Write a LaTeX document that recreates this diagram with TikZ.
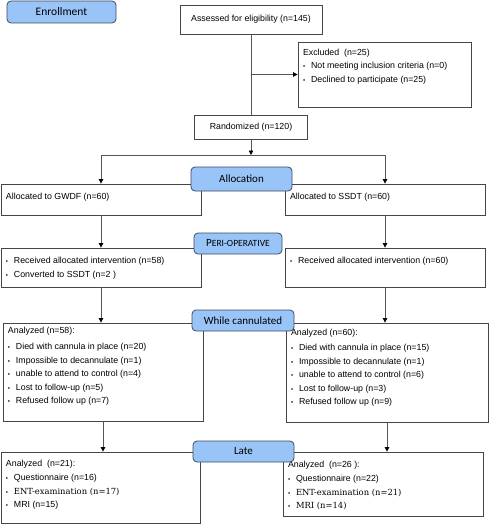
\documentclass[tikz,border=0pt]{standalone}
\usepackage{fontspec}
\setmainfont{Liberation Sans}
\newfontfamily\phasefont{Carlito}
\newfontfamily\entfont{DejaVu Serif}
\usetikzlibrary{arrows.meta}
\definecolor{phasefill}{RGB}{152,196,248}
\definecolor{phaseline}{RGB}{60,75,95}
\definecolor{boxline}{RGB}{70,70,70}
\definecolor{linecol}{RGB}{85,85,85}
\newcommand{\itm}{\makebox[8pt][l]{\scalebox{0.7}{\textbullet}}}
\newcommand{\ent}[1]{{\entfont\fontsize{8.4}{13.5}\selectfont #1}}
\newcommand{\toptext}[4]{\parbox[c][#2pt][t]{#1pt}{\vspace*{#3pt}\leftskip=5pt\relax #4}}
\begin{document}
\begin{tikzpicture}[x=1pt, y=-1pt,
    phase/.style={draw=phaseline, fill=phasefill, rounded corners=4pt, line width=0.8pt, inner sep=0pt, font=\phasefont\fontsize{11}{13}\selectfont},
    flow/.style={draw=boxline, line width=0.8pt, inner sep=0pt, font=\fontsize{8.8}{13.5}\selectfont},
    link/.style={draw=linecol, line width=0.8pt},
    arr/.style={link, -{Triangle[length=4.5pt, width=4.5pt, color=black]}}]
    \useasboundingbox (0, 0) rectangle (489, 524);

    \node[flow, minimum width=142, minimum height=29] (assessed) at (251, 19.5) {Assessed for eligibility (n=145)};
    \node[flow] (excluded) at (384.5, 74.5) {\toptext{173}{65}{7}{Excluded\ \ (n=25)\\\itm Not meeting inclusion criteria (n=0)\\\itm Declined to participate (n=25)}};
    \node[flow, minimum width=113, minimum height=24] (randomized) at (251, 127) {Randomized (n=120)};

    \node[flow] (gwdf) at (101, 199.5) {\toptext{200}{31}{9}{Allocated to GWDF (n=60)}};
    \node[flow] (ssdt) at (385, 199.5) {\toptext{200}{31}{9}{Allocated to SSDT (n=60)}};

    \node[flow] (perileft) at (101, 267.5) {\toptext{200}{39}{9}{\itm Received allocated intervention (n=58)\\[1pt]\itm Converted to SSDT (n=2 )}};
    \node[flow] (periright) at (385, 267.5) {\toptext{200}{39}{9}{\itm Received allocated intervention (n=60)}};

    \node[flow] (anleft) at (103, 372) {\toptext{200}{98}{4}{Analyzed (n=58):\\[3pt]\itm Died with cannula in place (n=20)\\\itm Impossible to decannulate (n=1)\\\itm unable to attend to control (n=4)\\\itm Lost to follow-up (n=5)\\\itm Refused follow up (n=7)}};
    \node[flow] (anright) at (387, 372.5) {\toptext{202}{99}{6}{Analyzed (n=60):\\[2pt]\itm Died with cannula in place (n=15)\\\itm Impossible to decannulate (n=1)\\\itm unable to attend to control (n=6)\\\itm Lost to follow-up (n=3)\\\itm Refused follow up (n=9)}};

    \node[flow] (lateleft) at (100.5, 487.5) {\toptext{199}{71}{8}{Analyzed\ \ (n=21):\\[1pt]\itm Questionnaire (n=16)\\\itm \ent{ENT-examination (n=17)}\\\itm MRI (n=15)}};
    \node[flow] (lateright) at (383, 484) {\toptext{200}{64}{9}{Analyzed\ \ (n=26 ):\\[1pt]\itm Questionnaire (n=22)\\\itm \ent{ENT-examination (n=21)}\\\itm \ent{MRI (n=14)}}};

    % phase labels on top of the boxes
    \node[phase, minimum width=109, minimum height=22, font=\phasefont\fontsize{11.5}{13}\selectfont] (enroll) at (61.5, 12) {Enrollment};
    \node[phase, minimum width=101, minimum height=24] (allocation) at (241.5, 179) {Allocation};
    \node[phase, minimum width=88, minimum height=21] (periop) at (238, 243.5) {P{\fontsize{9.5}{11}\selectfont ERI-OPERATIVE}};
    \node[phase, minimum width=102, minimum height=21] (cannulated) at (243, 320.5) {While cannulated};
    \node[phase, minimum width=101, minimum height=21] (late) at (243.5, 451.5) {Late};

    \coordinate (exbranch) at (assessed.south |- excluded.west);
    \coordinate (split) at (251, 155);

    \draw[link] (assessed) -- (randomized);
    \draw[arr] (exbranch) -- (excluded.west);
    \draw[arr] (randomized) -- (split);
    \draw[link] (gwdf.north |- split) -- (ssdt.north |- split);
    \draw[arr] (gwdf.north |- split) -- (gwdf.north);
    \draw[arr] (ssdt.north |- split) -- (ssdt.north);

    \draw[arr] (gwdf) -- (perileft);
    \draw[arr] (ssdt) -- (periright);
    \draw[arr] (perileft.south) -- (perileft.south |- anleft.north);
    \draw[arr] (periright.south) -- (periright.south |- anright.north);
    \draw[arr] (anleft.south) -- (anleft.south |- lateleft.north);
    \draw[arr] (anright.south) -- (anright.south |- lateright.north);
\end{tikzpicture}
\end{document}
